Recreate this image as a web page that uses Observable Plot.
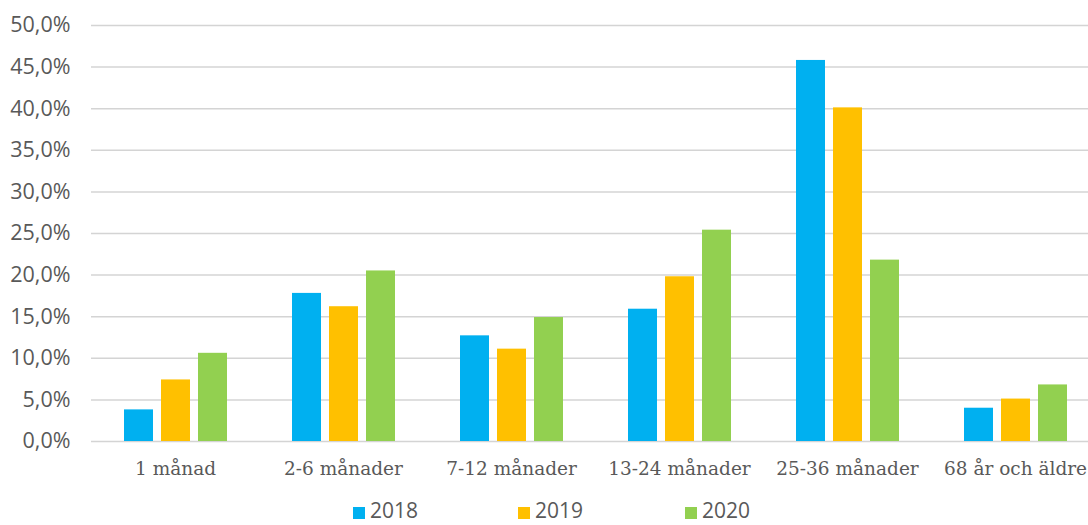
<!DOCTYPE html>
<html><head><meta charset="utf-8">
<script src="https://cdn.jsdelivr.net/npm/d3@7"></script>
<script src="https://cdn.jsdelivr.net/npm/@observablehq/plot@0.6"></script>
<style>
html,body{margin:0;padding:0;background:#fff;overflow:hidden;}
#chart{position:relative;width:1088px;height:525px;overflow:hidden;}
#chart svg{position:absolute;left:0;top:0;}
#chart svg g[aria-label="y-axis tick label"]{font-family:"Open Sans",sans-serif;font-size:21.5px;}
#chart svg g[aria-label="fx-axis tick label"]{font-family:"DejaVu Serif",serif;font-size:18.5px;}
.item{position:absolute;top:500px;height:20px;display:flex;align-items:center;font-family:"Open Sans",sans-serif;font-size:21px;color:#595959;line-height:20px;}
.sw{width:12px;height:12px;margin-right:5px;margin-top:5px;}
</style></head><body><div id="chart"></div>
<script>
const categories = ["1 månad", "2-6 månader", "7-12 månader", "13-24 månader", "25-36 månader", "68 år och äldre"];
const years = ["2018", "2019", "2020"];
const colors = ["#00B0F0", "#FFC000", "#92D050"];
const v2018 = [3.8, 17.8, 12.7, 15.9, 45.8, 4.0];
const v2019 = [7.4, 16.2, 11.1, 19.8, 40.1, 5.1];
const v2020 = [10.6, 20.5, 14.9, 25.4, 21.8, 6.8];
const yTicks = [0, 5, 10, 15, 20, 25, 30, 35, 40, 45, 50];
const legendLeft = [353, 518, 685];

const series = [v2018, v2019, v2020];
const data = [];
categories.forEach((c, i) => years.forEach((y, j) => data.push({cat: c, year: y, value: series[j][i]})));

const fmt = d => d.toFixed(1).replace(".", ",") + "%";

const plot = Plot.plot({
  width: 1088, height: 488,
  marginLeft: 91, marginRight: -11, marginTop: 25, marginBottom: 47,
  style: {color: "#595959", background: "transparent"},
  fx: {domain: categories, paddingInner: 0, paddingOuter: 0, label: null},
  x: {domain: years, axis: null, paddingInner: 0.22, paddingOuter: 0.855},
  y: {domain: [0, 50], label: null},
  color: {domain: years, range: colors},
  marks: [
    Plot.ruleY(yTicks, {stroke: "#d4d4d4", strokeWidth: 1.5, strokeOpacity: 1}),
    Plot.barY(data, {fx: "cat", x: "year", y: "value", fill: "year"}),
    Plot.axisY({ticks: yTicks, tickFormat: fmt, tickSize: 0, tickPadding: 21, label: null}),
    Plot.axisFx({anchor: "bottom", tickSize: 0, tickPadding: 20, label: null})
  ]
});
const chart = document.getElementById("chart");
chart.appendChild(plot);
years.forEach((y, j) => {
  const d = document.createElement("div");
  d.className = "item";
  d.style.left = legendLeft[j] + "px";
  d.innerHTML = `<div class="sw" style="background:${colors[j]}"></div><span>${y}</span>`;
  chart.appendChild(d);
});
</script>
</body></html>
